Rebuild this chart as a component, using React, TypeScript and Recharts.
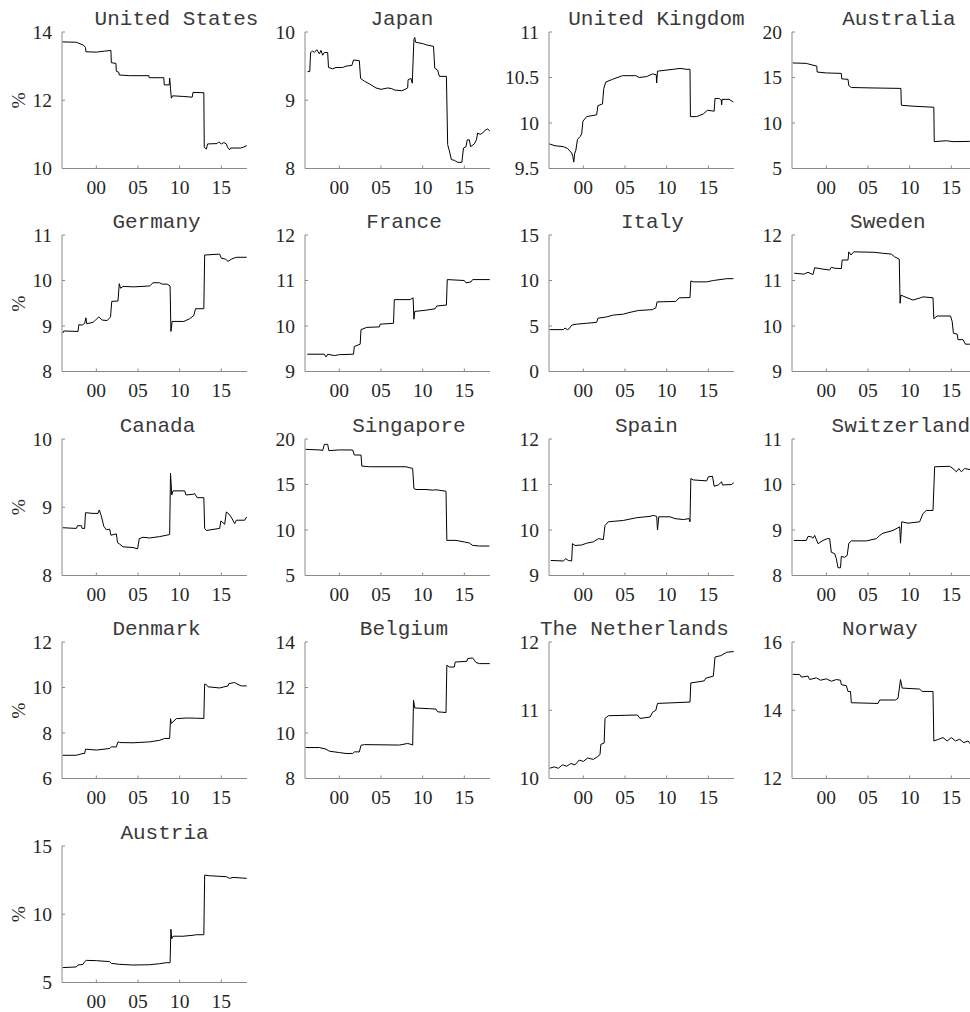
import React from 'react';
import { LineChart, Line, XAxis, YAxis } from 'recharts';

type Pt = [number, number];

const X_DOMAIN: [number, number] = [1995.88, 2018.08];
const X_TICKS = [2000, 2005, 2010, 2015];

const unitedStates: Pt[] = [[1995.92,13.71],[1997.6,13.70],[1998.4,13.62],[1998.7,13.55],[1998.75,13.42],[2000.0,13.41],[2001.0,13.44],[2001.75,13.46],[2001.8,13.1],[2002.35,13.08],[2002.4,12.85],[2002.7,12.82],[2002.75,12.74],[2004.0,12.72],[2006.3,12.72],[2006.35,12.66],[2008.1,12.66],[2008.15,12.45],[2008.75,12.45],[2008.8,12.65],[2008.9,12.35],[2009.0,12.06],[2009.15,12.13],[2010.5,12.11],[2011.5,12.09],[2011.6,12.23],[2012.9,12.22],[2012.95,10.62],[2013.2,10.57],[2013.35,10.72],[2014.5,10.73],[2014.7,10.78],[2015.0,10.72],[2015.3,10.76],[2015.6,10.72],[2015.75,10.62],[2016.0,10.55],[2016.1,10.60],[2017.3,10.60],[2017.7,10.63],[2018.05,10.67]];
const japan: Pt[] = [[1996.2,9.42],[1996.45,9.42],[1996.55,9.70],[1996.8,9.72],[1997.0,9.70],[1997.3,9.74],[1997.6,9.68],[1997.8,9.73],[1998.0,9.66],[1998.2,9.70],[1998.6,9.70],[1998.7,9.48],[1999.2,9.46],[1999.6,9.48],[2000.4,9.48],[2000.8,9.50],[2001.5,9.51],[2001.7,9.59],[2002.4,9.58],[2002.55,9.32],[2003.0,9.28],[2003.6,9.24],[2004.4,9.18],[2005.0,9.16],[2005.8,9.18],[2006.3,9.17],[2006.6,9.15],[2007.5,9.14],[2007.9,9.16],[2008.2,9.18],[2008.25,9.30],[2008.6,9.32],[2008.75,9.25],[2008.95,9.89],[2009.05,9.92],[2009.15,9.85],[2010.0,9.83],[2010.5,9.81],[2011.3,9.79],[2011.45,9.47],[2011.8,9.44],[2012.0,9.35],[2012.85,9.35],[2013.0,8.35],[2013.2,8.26],[2013.45,8.13],[2013.8,8.12],[2014.2,8.09],[2014.7,8.09],[2014.9,8.30],[2015.2,8.32],[2015.35,8.42],[2015.6,8.42],[2015.75,8.32],[2016.2,8.36],[2016.45,8.42],[2016.6,8.52],[2016.9,8.50],[2017.2,8.52],[2017.5,8.56],[2017.8,8.58],[2018.05,8.55]];
const unitedKingdom: Pt[] = [[1995.92,9.77],[1996.6,9.75],[1997.6,9.74],[1998.1,9.72],[1998.3,9.70],[1998.6,9.67],[1998.75,9.63],[1998.85,9.57],[1998.95,9.66],[1999.1,9.70],[1999.3,9.82],[1999.6,9.85],[1999.8,9.88],[1999.95,10.02],[2000.4,10.07],[2001.6,10.09],[2001.75,10.19],[2002.3,10.21],[2002.45,10.38],[2002.7,10.45],[2003.5,10.48],[2004.7,10.52],[2006.3,10.52],[2006.7,10.50],[2007.6,10.51],[2008.3,10.54],[2008.75,10.53],[2008.8,10.44],[2008.9,10.57],[2010.8,10.59],[2011.6,10.60],[2012.4,10.59],[2012.8,10.59],[2012.85,10.07],[2013.6,10.07],[2014.4,10.10],[2014.9,10.14],[2015.7,10.13],[2015.8,10.27],[2016.3,10.27],[2016.55,10.25],[2016.6,10.20],[2016.65,10.26],[2017.5,10.26],[2018.0,10.23]];
const australia: Pt[] = [[1995.95,16.6],[1997.6,16.55],[1998.4,16.35],[1998.85,16.25],[1998.9,15.6],[2000.0,15.5],[2001.8,15.45],[2001.85,14.85],[2002.6,14.8],[2002.7,14.1],[2003.0,13.9],[2005.6,13.85],[2008.95,13.8],[2009.0,11.95],[2010.4,11.85],[2012.9,11.73],[2012.95,7.95],[2014.4,8.05],[2015.2,7.95],[2017.2,7.98],[2018.05,7.98]];
const germany: Pt[] = [[1995.95,8.84],[1996.1,8.89],[1997.8,8.88],[1997.9,9.03],[1998.3,9.02],[1998.6,9.06],[1998.75,9.18],[1998.85,9.05],[1999.6,9.08],[1999.9,9.13],[2000.3,9.20],[2000.7,9.13],[2001.3,9.12],[2001.7,9.20],[2001.85,9.54],[2002.6,9.55],[2002.75,9.93],[2002.9,9.83],[2003.2,9.87],[2004.5,9.86],[2006.4,9.88],[2006.8,9.95],[2007.6,9.95],[2007.9,9.92],[2008.5,9.92],[2008.85,9.88],[2008.95,8.88],[2009.1,9.10],[2010.5,9.10],[2011.2,9.16],[2011.7,9.23],[2011.9,9.38],[2012.9,9.38],[2013.0,10.56],[2014.8,10.58],[2015.0,10.49],[2015.5,10.47],[2015.8,10.42],[2016.2,10.47],[2016.8,10.51],[2018.05,10.51]];
const france: Pt[] = [[1996.15,9.38],[1998.2,9.38],[1998.4,9.32],[1998.6,9.38],[1999.4,9.35],[2000.0,9.37],[2001.7,9.38],[2001.8,9.55],[2002.5,9.6],[2002.6,9.92],[2003.3,9.97],[2004.8,9.98],[2004.9,10.04],[2006.5,10.06],[2006.6,10.58],[2008.5,10.58],[2008.85,10.62],[2008.95,10.15],[2009.05,10.32],[2010.5,10.35],[2011.5,10.38],[2011.7,10.44],[2012.85,10.46],[2012.95,11.02],[2015.0,11.0],[2015.2,10.95],[2015.8,10.97],[2016.0,11.02],[2018.05,11.02]];
const italy: Pt[] = [[1995.95,4.6],[1997.6,4.6],[1997.8,4.78],[1998.1,4.6],[1998.3,4.7],[1998.6,5.1],[1999.2,5.2],[2000.4,5.3],[2001.6,5.4],[2001.75,5.85],[2002.8,6.0],[2003.6,6.2],[2004.8,6.3],[2005.6,6.5],[2006.6,6.7],[2008.3,6.8],[2008.7,7.0],[2008.85,7.65],[2011.1,7.7],[2011.5,8.1],[2012.8,8.12],[2012.9,9.95],[2013.2,9.85],[2014.8,9.85],[2015.6,10.0],[2017.2,10.2],[2018.0,10.2]];
const sweden: Pt[] = [[1996.15,11.16],[1997.3,11.14],[1997.8,11.18],[1998.4,11.13],[1998.6,11.28],[1999.6,11.25],[2000.4,11.23],[2000.6,11.29],[2001.0,11.27],[2001.8,11.26],[2001.9,11.45],[2002.6,11.45],[2002.7,11.63],[2002.95,11.56],[2003.3,11.63],[2005.7,11.62],[2006.7,11.6],[2007.8,11.58],[2008.2,11.52],[2008.75,11.47],[2008.85,10.5],[2008.95,10.68],[2009.3,10.65],[2010.4,10.57],[2011.3,10.62],[2011.6,10.64],[2012.8,10.62],[2012.9,10.16],[2013.3,10.22],[2014.9,10.22],[2015.1,10.1],[2015.25,9.84],[2015.7,9.82],[2015.8,9.7],[2016.4,9.7],[2016.7,9.6],[2017.2,9.6],[2018.05,9.6]];
const canada: Pt[] = [[1995.95,8.70],[1997.6,8.69],[1997.75,8.73],[1998.2,8.73],[1998.3,8.69],[1998.6,8.69],[1998.7,8.92],[1999.6,8.91],[2000.2,8.91],[2000.35,8.96],[2000.6,8.87],[2000.9,8.72],[2001.2,8.67],[2001.6,8.68],[2001.75,8.59],[2002.4,8.61],[2002.55,8.48],[2002.8,8.46],[2003.2,8.42],[2004.4,8.41],[2004.95,8.39],[2005.15,8.54],[2005.6,8.56],[2006.4,8.55],[2007.6,8.57],[2008.8,8.60],[2008.9,9.5],[2009.05,9.18],[2009.2,9.24],[2010.6,9.24],[2010.75,9.18],[2011.6,9.19],[2011.8,9.20],[2012.1,9.14],[2012.9,9.14],[2013.0,8.69],[2013.2,8.66],[2014.8,8.69],[2014.95,8.8],[2015.4,8.75],[2015.6,8.93],[2015.75,8.92],[2016.1,8.87],[2016.3,8.83],[2016.6,8.76],[2016.8,8.81],[2017.8,8.81],[2018.05,8.86]];
const singapore: Pt[] = [[1995.95,18.86],[1997.8,18.79],[1998.0,18.72],[1998.2,19.41],[1998.6,19.41],[1998.75,18.72],[2000.0,18.8],[2001.6,18.79],[2001.8,18.24],[2002.6,18.24],[2002.7,17.02],[2003.6,16.95],[2008.0,16.95],[2008.8,16.76],[2008.95,14.56],[2009.2,14.45],[2010.4,14.45],[2011.2,14.38],[2011.6,14.42],[2012.8,14.26],[2012.9,8.86],[2014.0,8.86],[2015.0,8.68],[2015.6,8.57],[2016.0,8.31],[2016.8,8.24],[2018.0,8.24]];
const spain: Pt[] = [[1996.1,9.33],[1997.6,9.32],[1997.9,9.37],[1998.2,9.33],[1998.6,9.32],[1998.7,9.7],[1999.0,9.66],[1999.8,9.67],[2000.4,9.71],[2001.2,9.74],[2001.8,9.81],[2002.4,9.79],[2002.6,10.1],[2003.0,10.18],[2004.8,10.21],[2006.4,10.27],[2008.0,10.3],[2008.4,10.32],[2008.8,10.3],[2008.9,10.0],[2009.05,10.29],[2010.4,10.29],[2011.0,10.25],[2012.0,10.23],[2012.7,10.25],[2012.8,10.18],[2012.9,11.13],[2013.2,11.1],[2014.8,11.08],[2015.0,11.17],[2015.5,11.18],[2015.7,10.96],[2016.2,10.99],[2016.6,11.06],[2016.7,10.99],[2017.8,11.0],[2018.05,11.04]];
const switzerland: Pt[] = [[1996.1,8.77],[1997.6,8.77],[1997.8,8.86],[1998.2,8.85],[1998.4,8.82],[1998.6,8.88],[1999.0,8.7],[1999.6,8.77],[2000.1,8.81],[2000.4,8.81],[2000.6,8.51],[2001.0,8.48],[2001.2,8.37],[2001.4,8.17],[2001.7,8.17],[2001.8,8.42],[2002.2,8.40],[2002.5,8.44],[2002.7,8.71],[2003.0,8.76],[2004.8,8.76],[2006.0,8.81],[2006.4,8.88],[2006.8,8.93],[2008.0,8.99],[2008.8,9.07],[2008.9,8.71],[2009.05,9.18],[2009.8,9.15],[2011.2,9.18],[2011.6,9.36],[2012.0,9.43],[2012.8,9.43],[2013.0,10.39],[2014.8,10.4],[2015.2,10.35],[2015.6,10.28],[2015.9,10.35],[2016.2,10.28],[2016.6,10.35],[2017.5,10.32],[2018.05,10.35]];
const denmark: Pt[] = [[1995.95,7.02],[1997.6,7.02],[1998.4,7.1],[1998.6,7.1],[1998.7,7.29],[2000.0,7.25],[2001.6,7.32],[2001.8,7.39],[2002.4,7.39],[2002.6,7.61],[2002.8,7.58],[2004.4,7.57],[2006.4,7.61],[2007.6,7.68],[2008.2,7.76],[2008.8,7.76],[2008.9,8.63],[2009.0,8.42],[2009.2,8.49],[2009.6,8.63],[2010.8,8.66],[2012.0,8.65],[2012.9,8.64],[2013.0,10.15],[2013.2,10.13],[2013.4,10.03],[2014.8,9.98],[2015.8,10.07],[2015.9,10.17],[2016.6,10.22],[2017.0,10.13],[2017.4,10.07],[2018.05,10.07]];
const belgium: Pt[] = [[1995.95,9.36],[1997.6,9.36],[1998.4,9.29],[1998.8,9.2],[2000.0,9.14],[2000.8,9.1],[2001.6,9.1],[2001.8,9.17],[2002.4,9.17],[2002.6,9.46],[2003.0,9.49],[2007.2,9.47],[2008.2,9.54],[2008.6,9.5],[2008.8,9.47],[2008.9,11.44],[2009.05,11.1],[2010.8,11.07],[2011.6,11.05],[2011.8,10.93],[2012.8,10.9],[2012.9,12.98],[2013.2,12.9],[2013.8,12.9],[2013.9,13.12],[2015.3,13.15],[2015.4,13.27],[2016.0,13.3],[2016.4,13.1],[2016.8,13.05],[2018.05,13.05]];
const netherlands: Pt[] = [[1995.95,10.15],[1996.5,10.17],[1997.0,10.15],[1997.5,10.2],[1998.0,10.18],[1998.5,10.22],[1999.0,10.2],[1999.5,10.27],[2000.0,10.25],[2000.5,10.3],[2001.2,10.28],[2001.7,10.32],[2002.0,10.35],[2002.1,10.5],[2002.5,10.52],[2002.6,10.88],[2003.0,10.92],[2006.5,10.93],[2006.8,10.88],[2008.0,10.9],[2008.3,10.97],[2008.7,11.0],[2008.9,11.1],[2012.8,11.12],[2012.9,11.4],[2014.5,11.43],[2014.7,11.47],[2015.6,11.5],[2015.8,11.78],[2016.5,11.8],[2017.2,11.85],[2018.05,11.86]];
const norway: Pt[] = [[1995.95,15.05],[1996.8,15.05],[1997.0,14.97],[1997.8,15.0],[1998.0,14.9],[1998.8,14.95],[1999.3,14.88],[2000.0,14.92],[2000.6,14.85],[2001.2,14.9],[2001.7,14.88],[2001.8,14.75],[2002.4,14.72],[2002.6,14.55],[2002.9,14.55],[2003.0,14.22],[2006.2,14.2],[2006.4,14.3],[2008.3,14.3],[2008.6,14.35],[2008.9,14.9],[2009.1,14.65],[2011.2,14.62],[2011.5,14.55],[2012.8,14.55],[2012.9,13.1],[2013.5,13.15],[2014.0,13.2],[2014.5,13.1],[2015.0,13.2],[2015.5,13.1],[2016.0,13.15],[2016.5,13.05],[2017.0,13.1],[2017.5,12.95],[2017.8,12.8],[2018.05,12.85]];
const austria: Pt[] = [[1995.95,6.09],[1997.6,6.14],[1997.8,6.28],[1998.4,6.33],[1998.6,6.53],[1998.8,6.62],[2000.0,6.6],[2001.6,6.53],[2001.8,6.4],[2002.8,6.33],[2004.4,6.28],[2006.4,6.3],[2007.6,6.38],[2008.4,6.45],[2008.85,6.45],[2008.95,8.9],[2009.05,8.2],[2009.2,8.39],[2010.4,8.39],[2011.6,8.46],[2012.0,8.5],[2012.9,8.5],[2013.0,12.87],[2013.6,12.82],[2015.6,12.75],[2016.0,12.63],[2016.4,12.7],[2018.05,12.63]];

const PANELS = [
  { name: 'United States', data: unitedStates, domain: [10, 14], ticks: [10, 12, 14] },
  { name: 'Japan', data: japan, domain: [8, 10], ticks: [8, 9, 10] },
  { name: 'United Kingdom', data: unitedKingdom, domain: [9.5, 11], ticks: [9.5, 10, 10.5, 11] },
  { name: 'Australia', data: australia, domain: [5, 20], ticks: [5, 10, 15, 20] },
  { name: 'Germany', data: germany, domain: [8, 11], ticks: [8, 9, 10, 11] },
  { name: 'France', data: france, domain: [9, 12], ticks: [9, 10, 11, 12] },
  { name: 'Italy', data: italy, domain: [0, 15], ticks: [0, 5, 10, 15] },
  { name: 'Sweden', data: sweden, domain: [9, 12], ticks: [9, 10, 11, 12] },
  { name: 'Canada', data: canada, domain: [8, 10], ticks: [8, 9, 10] },
  { name: 'Singapore', data: singapore, domain: [5, 20], ticks: [5, 10, 15, 20] },
  { name: 'Spain', data: spain, domain: [9, 12], ticks: [9, 10, 11, 12] },
  { name: 'Switzerland', data: switzerland, domain: [8, 11], ticks: [8, 9, 10, 11] },
  { name: 'Denmark', data: denmark, domain: [6, 12], ticks: [6, 8, 10, 12] },
  { name: 'Belgium', data: belgium, domain: [8, 14], ticks: [8, 10, 12, 14] },
  { name: 'The Netherlands', data: netherlands, domain: [10, 12], ticks: [10, 11, 12] },
  { name: 'Norway', data: norway, domain: [12, 16], ticks: [12, 14, 16] },
  { name: 'Austria', data: austria, domain: [5, 15], ticks: [5, 10, 15] },
];

// layout
const TITLE_DX = [22, 4, 15, 14, 2, 6, 11, 3, 3, 11, 5, 16, 2, 6, -7, -5, 10];
const PLOT_LEFT0 = 62;
const PLOT_TOP0 = 32;
const COL_STEP = 243.45;
const ROW_STEP = 203.45;
const PLOT_W = 185;
const PLOT_H = 136.5;
const Y_AXIS_W = 62;
const X_AXIS_H = 35;
const M_TOP = 32;
const M_RIGHT = 3;
const CHART_W = Y_AXIS_W + PLOT_W + M_RIGHT;
const CHART_H = M_TOP + PLOT_H + X_AXIS_H;

const AXIS_COLOR = '#8a8a8a';
const TEXT_COLOR = '#262626';
const TITLE_COLOR = '#3a3a3a';
const SERIF = "'Liberation Serif', 'Times New Roman', serif";
const MONO = "'Liberation Mono', 'Courier New', monospace";
const TICK_FS = 19.5;

const XTick = (props: any) => {
  const { x, y, payload } = props;
  const label = String(Math.round(payload.value) % 100).padStart(2, '0');
  return (
    <g>
      <line x1={x} x2={x} y1={y} y2={y - 3} stroke={AXIS_COLOR} strokeWidth={1} />
      <text x={x} y={y + 25.5} textAnchor="middle" fontFamily={SERIF} fontSize={TICK_FS} fill={TEXT_COLOR}>{label}</text>
    </g>
  );
};

const YTick = (props: any) => {
  const { x, y, payload } = props;
  return (
    <g>
      <line x1={x} x2={x + 3} y1={y} y2={y} stroke={AXIS_COLOR} strokeWidth={1} />
      <text x={x - 10} y={y} dy="0.35em" textAnchor="end" fontFamily={SERIF} fontSize={TICK_FS} fill={TEXT_COLOR}>{payload.value}</text>
    </g>
  );
};

function Panel({ p, idx }: { p: any; idx: number }) {
  const col = idx % 4;
  const row = Math.floor(idx / 4);
  const left = PLOT_LEFT0 + col * COL_STEP - Y_AXIS_W;
  const top = PLOT_TOP0 + row * ROW_STEP - M_TOP;
  const data = p.data.map((d: Pt) => ({ x: d[0], y: d[1] }));
  return (
    <div style={{ position: 'absolute', left, top, width: CHART_W, height: CHART_H }}>
      <LineChart width={CHART_W} height={CHART_H} data={data} margin={{ top: M_TOP, right: M_RIGHT, bottom: 0, left: 0 }}>
        <XAxis type="number" dataKey="x" domain={X_DOMAIN} ticks={X_TICKS} allowDataOverflow interval={0}
          tickSize={0} tickMargin={0} tickLine={false} height={X_AXIS_H}
          axisLine={{ stroke: AXIS_COLOR, strokeWidth: 1 }} tick={(t: any) => <XTick {...t} />} />
        <YAxis type="number" domain={p.domain} ticks={p.ticks} allowDataOverflow interval={0}
          tickSize={0} tickMargin={0} tickLine={false} width={Y_AXIS_W}
          axisLine={{ stroke: AXIS_COLOR, strokeWidth: 1 }} tick={(t: any) => <YTick {...t} />} />
        <Line type="linear" dataKey="y" stroke="#000000" strokeWidth={1} dot={false} isAnimationActive={false} />
      </LineChart>
    </div>
  );
}

export default function App() {
  return (
    <div style={{ position: 'absolute', left: 0, top: 0, width: 970, height: 1012, overflow: 'hidden', background: '#fff' }}>
      {PANELS.map((p, i) => <Panel key={p.name} p={p} idx={i} />)}
      <svg width={970} height={1012} style={{ position: 'absolute', left: 0, top: 0, pointerEvents: 'none' }}>
        {PANELS.map((p, i) => {
          const col = i % 4;
          const row = Math.floor(i / 4);
          const cx = PLOT_LEFT0 + col * COL_STEP + PLOT_W / 2 + TITLE_DX[i];
          const ty = PLOT_TOP0 + row * ROW_STEP - 7;
          return <text key={p.name} x={cx} y={ty} textAnchor="middle" fontFamily={MONO} fontSize={21} fill={TITLE_COLOR}>{p.name}</text>;
        })}
        {[0, 1, 2, 3, 4].map((r) => {
          const cy = PLOT_TOP0 + r * ROW_STEP + PLOT_H / 2;
          return <text key={r} x={25} y={cy} transform={`rotate(-90 25 ${cy})`} textAnchor="middle" fontFamily={SERIF} fontSize={TICK_FS} fill={TEXT_COLOR}>%</text>;
        })}
      </svg>
    </div>
  );
}
